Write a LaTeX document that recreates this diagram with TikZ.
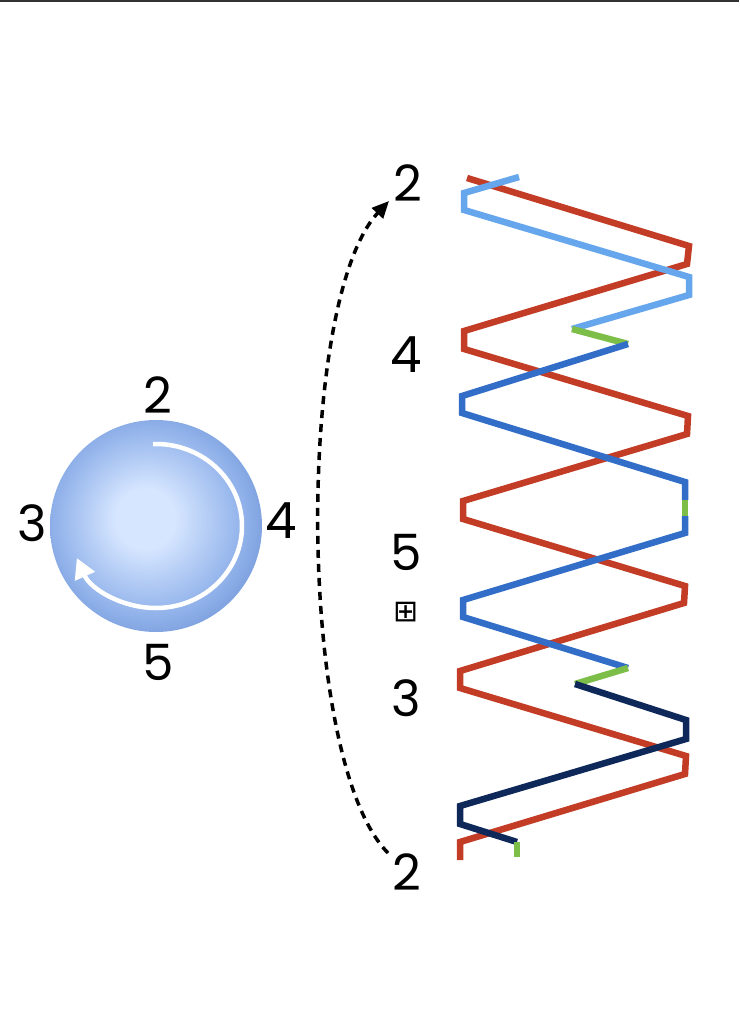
\documentclass[tikz,border=0pt]{standalone}
\usepackage{fontspec}
\setmainfont{Poppins}
\newfontfamily\symfont{DejaVu Sans}
\usetikzlibrary{arrows.meta}
\definecolor{zred}{RGB}{194,60,38}
\definecolor{zlblue}{RGB}{102,166,236}
\definecolor{zblue}{RGB}{50,110,200}
\definecolor{znavy}{RGB}{14,40,90}
\definecolor{zgreen}{RGB}{125,190,72}
\definecolor{cin}{RGB}{214,230,255}
\definecolor{cmid}{RGB}{150,182,236}
\definecolor{cout}{RGB}{98,138,210}
\tikzset{
  lbl/.style={inner sep=0pt, font=\fontsize{50}{50}\selectfont},
  strand/.style={line width=6.5pt, line join=miter, line cap=butt},
}
\pgfdeclareradialshading{ball}{\pgfpoint{-3bp}{2bp}}{%
  color(0bp)=(cin); color(7bp)=(cin); color(21bp)=(cmid); color(34bp)=(cout); color(50bp)=(cout)}
\begin{document}
\begin{tikzpicture}[x=1pt,y=-1pt]
\useasboundingbox (0,0) rectangle (739,1024);
\fill[white] (0,0) rectangle (739,1024);
\draw[line width=2pt, black!80] (0,1) -- (739,1);

% circle
\shade[shading=ball] (156,526) circle[radius=106];
\coordinate (c) at (156,526);
\draw[white, line width=4.5pt, -{Triangle[length=20pt,width=21pt]}]
  ([shift={(-92:86 and 82)}]c) arc[start angle=-92, end angle=157, x radius=86, y radius=82];

\node[lbl] (c2) at (158,395) {2};
\node[lbl] (c3) at (32,523) {3};
\node[lbl] (c4) at (281,521) {4};
\node[lbl] (c5) at (158,662) {5};

% right labels
\node[lbl] (r2) at (408,183) {2};
\node[lbl] (r4) at (406,355) {4};
\node[lbl] (r5) at (406,552) {5};
\node[inner sep=0pt, font=\symfont\fontsize{30}{30}\selectfont] (rb) at (406,612) {⊞};
\node[lbl] (r3) at (406,698) {3};
\node[lbl] (b2) at (407,872) {2};

% dashed arrow
\coordinate (as) at (388,853);
\coordinate (ae) at (389,201);
\draw[line width=3.5pt, dash pattern=on 8pt off 6pt, -{Triangle[length=17pt,width=15pt]}]
  (as) .. controls (296,760) and (296,300) .. (ae);

% strands
\draw[strand, zred] (467,178) -- (689,246) -- (687,264) -- (464,331) -- (464,349)
  -- (688,416) -- (687,434) -- (463,501) -- (463,519) -- (685,586) -- (684,603)
  -- (460,671) -- (460,688) -- (686,756) -- (685,774) -- (460,842) -- (460,860);
\draw[strand, zlblue] (519,177) -- (464,193) -- (464,210) -- (689,277) -- (689,295) -- (572,329);
\draw[strand, zgreen] (572,329) -- (628,344);
\draw[strand, zblue] (628,344) -- (462,396) -- (462,413) -- (685,482) -- (685,500);
\draw[strand, zgreen] (685,500) -- (685,516);
\draw[strand, zblue] (685,516) -- (685,533) -- (463,600) -- (463,617) -- (628,668);
\draw[strand, zgreen] (628,668) -- (575,684);
\draw[strand, znavy] (575,684) -- (686,720) -- (686,739) -- (460,806) -- (460,824) -- (517,842);
\draw[strand, zgreen] (517,842) -- (517,857);
\end{tikzpicture}
\end{document}
